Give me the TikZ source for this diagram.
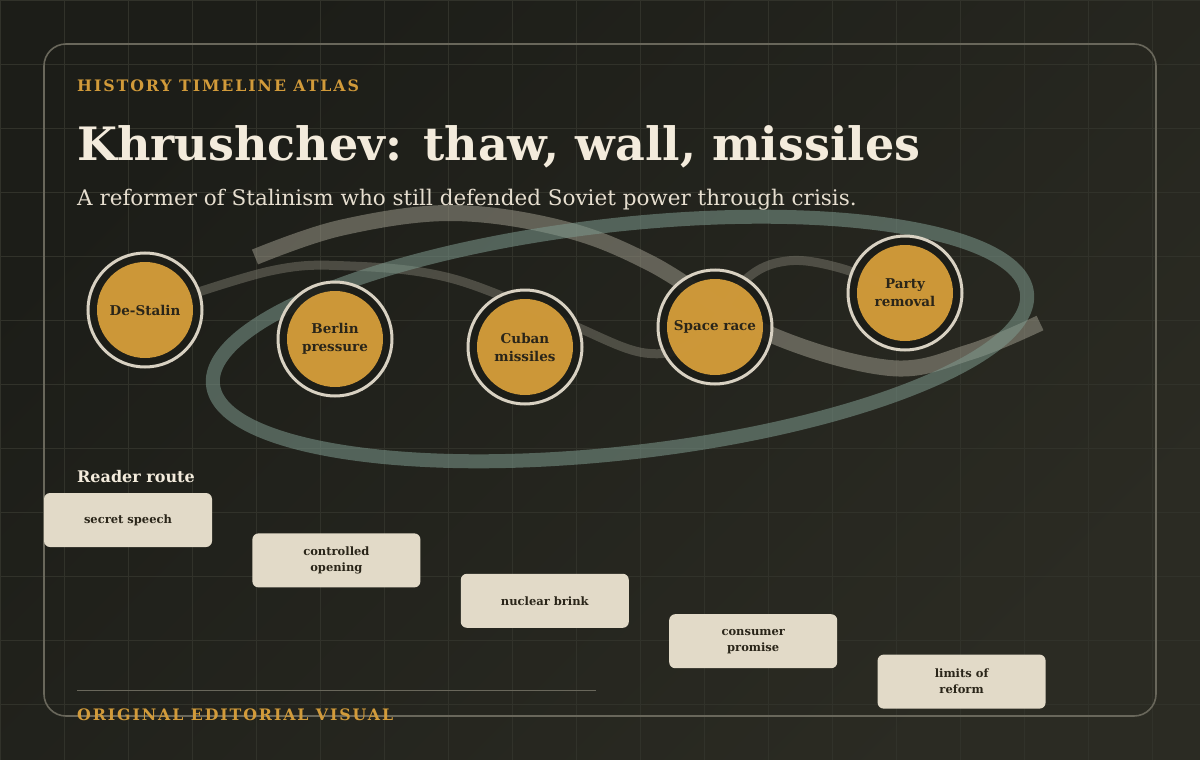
\documentclass[tikz,border=0pt]{standalone}
\usepackage{fontspec}
\setmainfont{DejaVu Serif}
\newfontfamily\spacedcaps[LetterSpace=12]{DejaVu Serif}
\usetikzlibrary{calc, backgrounds, positioning}
\usepackage{xcolor}

\definecolor{bgdark}{HTML}{1C1D18}
\definecolor{bglight}{HTML}{2B2B23}
\definecolor{gridline}{HTML}{31322A}
\definecolor{framegray}{HTML}{69675B}
\definecolor{gold}{HTML}{D29B3A}
\definecolor{cream}{HTML}{F3EBDC}
\definecolor{softcream}{HTML}{E6DECF}
\definecolor{paper}{HTML}{E2DAC8}
\definecolor{ink}{HTML}{2A2519}
\definecolor{ring}{HTML}{D8D1C2}
\definecolor{sage}{HTML}{7D998D}
\definecolor{ash}{HTML}{A3A091}

\tikzset{
  event/.style={circle, minimum size=114pt, inner sep=0pt, draw=ring, line width=3pt,
    fill=bgdark, fill opacity=0.9, text opacity=1, align=center, text=ink,
    font=\bfseries\fontsize{13.5}{18}\selectfont,
    path picture={\fill[gold, fill opacity=0.97] (path picture bounding box.center) circle[radius=48pt];}},
  route/.style={rectangle, rounded corners=6pt, fill=paper, minimum width=168pt, minimum height=54pt,
    inner sep=0pt, align=center, text=ink, font=\bfseries\fontsize{11.5}{16}\selectfont},
  kicker/.style={anchor=base west, inner sep=0pt, text=gold, font=\spacedcaps\bfseries\fontsize{15.8}{18}\selectfont},
  band/.style={line width=#1, line cap=butt},
}

\begin{document}
\begin{tikzpicture}[x=1pt, y=-1pt]
  \useasboundingbox (0,0) rectangle (1200,760);
  % backdrop with a soft diagonal gradient
  \shade[top color=bgdark, bottom color=bglight, shading angle=45] (0,0) rectangle (1200,760);
  % faint grid
  \foreach \gx in {0,64,...,1152} \draw[gridline, line width=0.8pt] (\gx,0) -- (\gx,760);
  \foreach \gy in {0,64,...,704} \draw[gridline, line width=0.8pt] (0,\gy) -- (1200,\gy);
  % frame
  \draw[framegray, line width=1.6pt, rounded corners=22pt] (44,44) rectangle (1156,716);

  % headings
  \node[kicker] (atlas) at (77,92) {HISTORY TIMELINE ATLAS};
  \node[anchor=base west, inner sep=0pt, text=cream, font=\bfseries\fontsize{46}{50}\selectfont] (title) at (77,160) {Khrushchev: thaw, wall, missiles};
  \node[anchor=base west, inner sep=0pt, text=softcream, font=\fontsize{21.5}{24}\selectfont] (subtitle) at (77,205) {A reformer of Stalinism who still defended Soviet power through crisis.};

  % event anchors
  \coordinate (c1) at (145,310);
  \coordinate (c2) at (335,339);
  \coordinate (c3) at (525,347);
  \coordinate (c4) at (715,327);
  \coordinate (c5) at (905,293);

  % wide sweep
  \draw[band=16pt, ash, draw opacity=0.5] plot[smooth, tension=0.6] coordinates
    {(255,257) (340,228) (450,213) (560,228) (650,263) (767,333) (890,368) (970,352) (1040,323)};
  % thin thread through the events
  \draw[band=9pt, ash, draw opacity=0.34] plot[smooth, tension=0.6] coordinates
    {(c1) (270,271) (350,266) (450,278) (560,320) (645,353) (700,338) (745,280) (787,261) (840,268) (c5)};
  % tilted loop
  \draw[band=14pt, sage, draw opacity=0.55, rotate around={6.45:(620,339)}] (620,339) ellipse[x radius=409.6, y radius=114];

  % events
  \node[event] (destalin) at (c1) {De-Stalin};
  \node[event] (berlin) at (c2) {Berlin\\pressure};
  \node[event] (cuba) at (c3) {Cuban\\missiles};
  \node[event] (space) at (c4) {Space race};
  \node[event] (removal) at (c5) {Party\\removal};

  % reader route
  \node[anchor=base west, inner sep=0pt, text=cream, font=\bfseries\fontsize{16}{20}\selectfont] (readerlabel) at (77,482) {Reader route};
  \node[route] (speech) at (128,520) {secret speech};
  \node[route, below right=-14pt and 40pt of speech] (opening) {controlled\\opening};
  \node[route, below right=-14pt and 40pt of opening] (brink) {nuclear brink};
  \node[route, below right=-14pt and 40pt of brink] (promise) {consumer\\promise};
  \node[route, below right=-14pt and 40pt of promise] (reform) {limits of\\reform};

  % footer
  \draw[framegray, line width=1pt] (77,690) coordinate (rulestart) -- (596,690) coordinate (ruleend);
  \node[kicker] (footer) at (77,720) {ORIGINAL EDITORIAL VISUAL};
\end{tikzpicture}
\end{document}
